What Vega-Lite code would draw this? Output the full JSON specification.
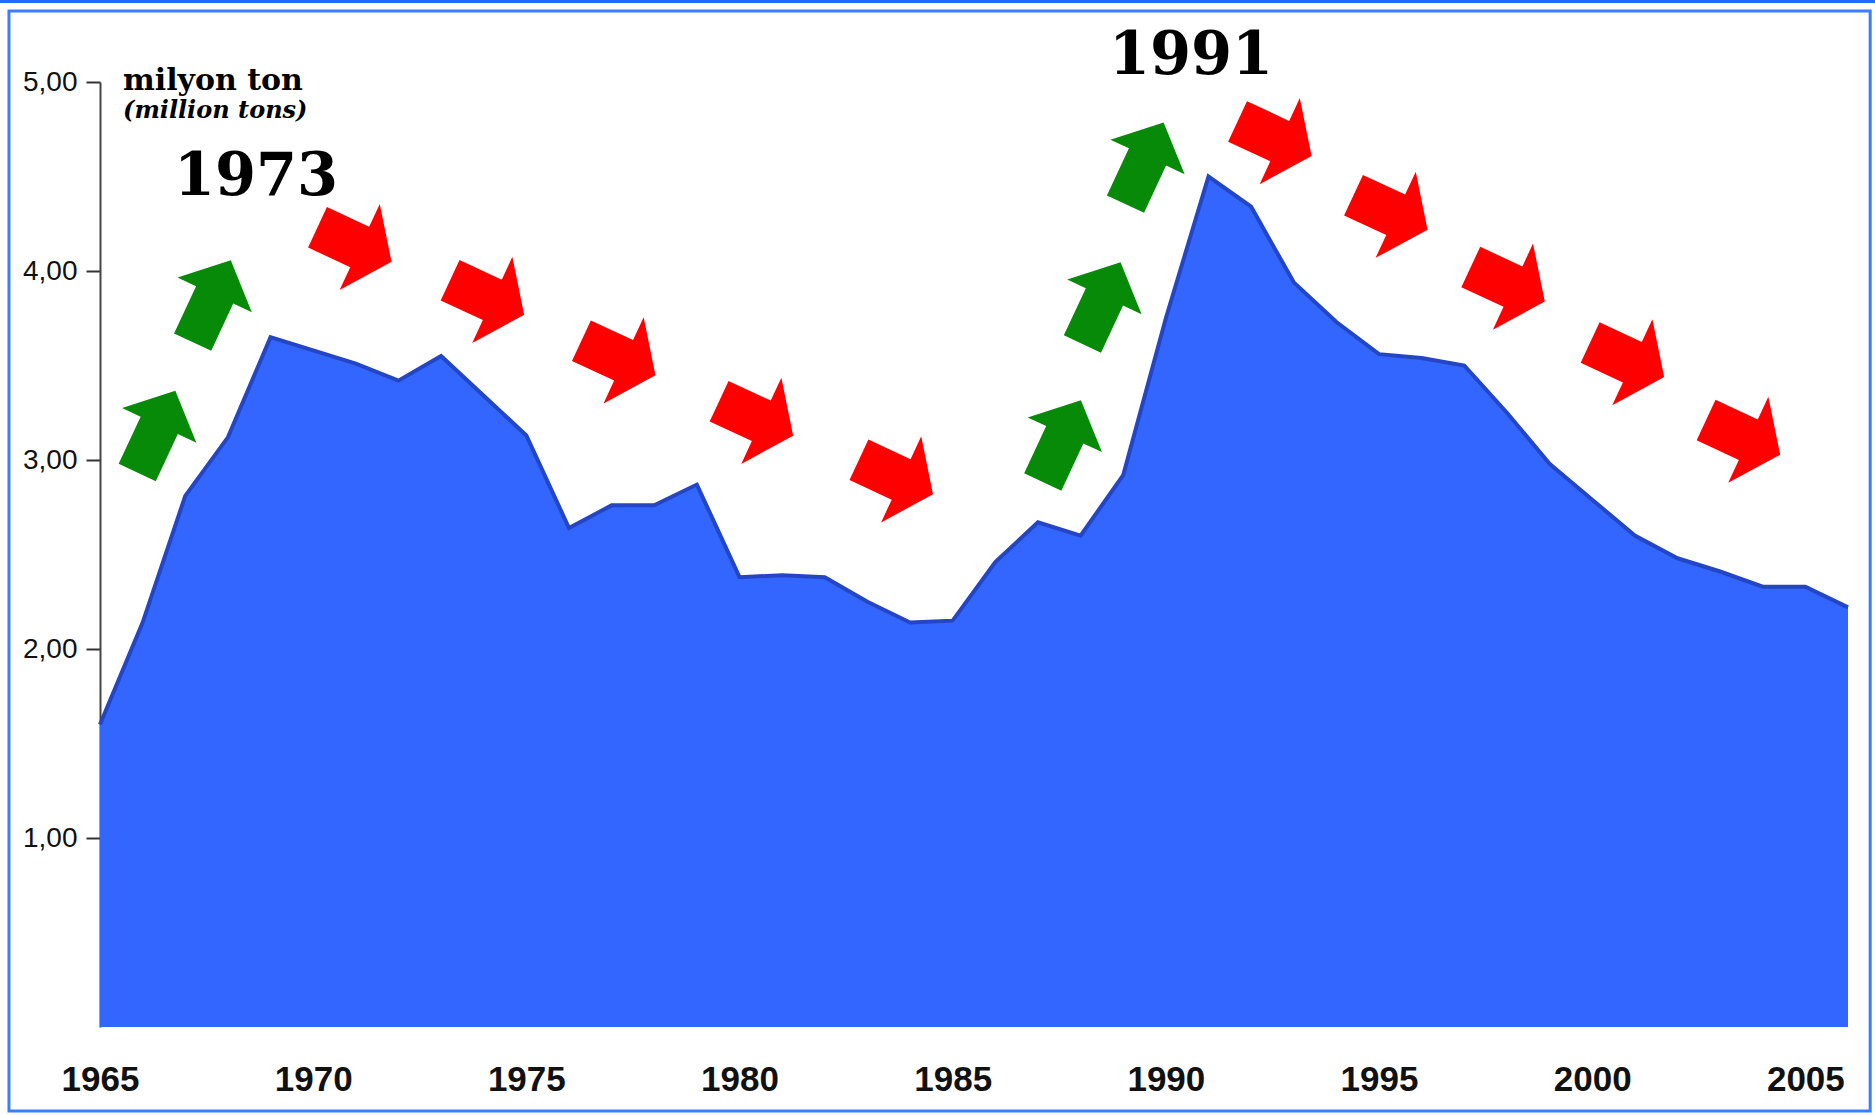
{
  "$schema": "https://vega.github.io/schema/vega-lite/v6.json",
  "width": 1748,
  "height": 945,
  "autosize": {"type": "none"},
  "padding": {"left": 100, "top": 82, "right": 27, "bottom": 88},
  "background": "white",
  "config": {"view": {"stroke": null}},
  "datasets": {
    "series": [
      {"year": 1965, "value": 1.60}, {"year": 1966, "value": 2.14}, {"year": 1967, "value": 2.81},
      {"year": 1968, "value": 3.12}, {"year": 1969, "value": 3.65}, {"year": 1970, "value": 3.58},
      {"year": 1971, "value": 3.51}, {"year": 1972, "value": 3.42}, {"year": 1973, "value": 3.55},
      {"year": 1974, "value": 3.34}, {"year": 1975, "value": 3.13}, {"year": 1976, "value": 2.64},
      {"year": 1977, "value": 2.76}, {"year": 1978, "value": 2.76}, {"year": 1979, "value": 2.87},
      {"year": 1980, "value": 2.38}, {"year": 1981, "value": 2.39}, {"year": 1982, "value": 2.38},
      {"year": 1983, "value": 2.25}, {"year": 1984, "value": 2.14}, {"year": 1985, "value": 2.15},
      {"year": 1986, "value": 2.46}, {"year": 1987, "value": 2.67}, {"year": 1988, "value": 2.60},
      {"year": 1989, "value": 2.92}, {"year": 1990, "value": 3.75}, {"year": 1991, "value": 4.50},
      {"year": 1992, "value": 4.34}, {"year": 1993, "value": 3.94}, {"year": 1994, "value": 3.73},
      {"year": 1995, "value": 3.56}, {"year": 1996, "value": 3.54}, {"year": 1997, "value": 3.50},
      {"year": 1998, "value": 3.25}, {"year": 1999, "value": 2.98}, {"year": 2000, "value": 2.79},
      {"year": 2001, "value": 2.60}, {"year": 2002, "value": 2.48}, {"year": 2003, "value": 2.41},
      {"year": 2004, "value": 2.33}, {"year": 2005, "value": 2.33}, {"year": 2006, "value": 2.22}
    ],
    "arrows": [
      {"year": 1966.32, "value": 3.15, "dir": "up"},
      {"year": 1967.62, "value": 3.84, "dir": "up"},
      {"year": 1970.97, "value": 4.14, "dir": "down"},
      {"year": 1974.08, "value": 3.86, "dir": "down"},
      {"year": 1977.16, "value": 3.54, "dir": "down"},
      {"year": 1980.39, "value": 3.22, "dir": "down"},
      {"year": 1983.67, "value": 2.91, "dir": "down"},
      {"year": 1987.56, "value": 3.10, "dir": "up"},
      {"year": 1988.49, "value": 3.83, "dir": "up"},
      {"year": 1989.50, "value": 4.57, "dir": "up"},
      {"year": 1992.55, "value": 4.70, "dir": "down"},
      {"year": 1995.27, "value": 4.31, "dir": "down"},
      {"year": 1998.02, "value": 3.93, "dir": "down"},
      {"year": 2000.82, "value": 3.53, "dir": "down"},
      {"year": 2003.54, "value": 3.12, "dir": "down"}
    ],
    "notes": [
      {"year": 1965.54, "value": 4.96, "kind": "unit", "label": "milyon ton"},
      {"year": 1965.54, "value": 4.81, "kind": "unitEn", "label": "(million tons)"},
      {"year": 1968.66, "value": 4.40, "kind": "peak", "label": "1973"},
      {"year": 1990.59, "value": 5.04, "kind": "peak", "label": "1991"}
    ],
    "frame": [
      {"x1": 1962.865, "x2": 2006.52, "y1": 5.376, "y2": -0.444}
    ],
    "band": [
      {"x1": 1962.6, "x2": 2006.7, "y1": 5.44, "y2": 5.418}
    ]
  },
  "layer": [
    {
      "data": {"name": "series"},
      "mark": {"type": "area", "color": "#3366ff", "opacity": 1, "fillOpacity": 1, "interpolate": "linear", "line": {"color": "#2446c4", "strokeWidth": 4}},
      "encoding": {
        "x": {
          "field": "year", "type": "quantitative",
          "scale": {"domain": [1965, 2006], "nice": false, "zero": false},
          "axis": {
            "values": [1965, 1970, 1975, 1980, 1985, 1990, 1995, 2000, 2005],
            "format": "d", "title": null, "grid": false, "domain": false, "ticks": false, "tickSize": 0,
            "labelPadding": 35, "labelFont": "Liberation Sans, Arial, sans-serif",
            "labelFontWeight": "bold", "labelFontSize": 35, "labelColor": "#111111", "labelFlush": false
          }
        },
        "y": {
          "field": "value", "type": "quantitative",
          "scale": {"domain": [0, 5], "nice": false},
          "axis": {
            "values": [1, 2, 3, 4, 5], "title": null, "grid": false,
            "labelExpr": "replace(format(datum.value, '.2f'), '.', ',')",
            "domain": true, "domainColor": "#444444", "domainWidth": 2,
            "ticks": true, "tickColor": "#333333", "tickWidth": 2, "tickSize": 14,
            "labelPadding": 9, "labelFont": "Liberation Sans, Arial, sans-serif",
            "labelFontSize": 28, "labelColor": "#111111"
          }
        }
      }
    },
    {
      "data": {"name": "band"},
      "mark": {"type": "rect", "fill": "#1f6dff", "strokeWidth": 0},
      "encoding": {
        "x": {"field": "x1", "type": "quantitative", "title": null, "scale": {"domain": [1965, 2006], "nice": false, "zero": false}},
        "x2": {"field": "x2"},
        "y": {"field": "y1", "type": "quantitative", "title": null, "scale": {"domain": [0, 5], "nice": false}},
        "y2": {"field": "y2"}
      }
    },
    {
      "data": {"name": "frame"},
      "mark": {"type": "rect", "fill": null, "fillOpacity": 0, "stroke": "#3a7dff", "strokeWidth": 3},
      "encoding": {
        "x": {"field": "x1", "type": "quantitative", "title": null, "scale": {"domain": [1965, 2006], "nice": false, "zero": false}},
        "x2": {"field": "x2"},
        "y": {"field": "y1", "type": "quantitative", "title": null, "scale": {"domain": [0, 5], "nice": false}},
        "y2": {"field": "y2"}
      }
    },
    {
      "data": {"name": "arrows"},
      "transform": [{"filter": "datum.dir === 'up'"}],
      "mark": {
        "type": "point", "filled": true, "opacity": 1, "fill": "#078a07", "strokeWidth": 0,
        "shape": "M -0.5 1.1 L -0.5 -0.17 L -1 -0.17 L 0 -1.1 L 1 -0.17 L 0.5 -0.17 L 0.5 1.1 Z",
        "size": 6724, "angle": 25
      },
      "encoding": {
        "x": {"field": "year", "type": "quantitative", "title": null, "scale": {"domain": [1965, 2006], "nice": false, "zero": false}},
        "y": {"field": "value", "type": "quantitative", "title": null, "scale": {"domain": [0, 5], "nice": false}}
      }
    },
    {
      "data": {"name": "arrows"},
      "transform": [{"filter": "datum.dir === 'down'"}],
      "mark": {
        "type": "point", "filled": true, "opacity": 1, "fill": "#ff0000", "strokeWidth": 0,
        "shape": "M -0.47 0.86 L -0.47 -0.12 L -1 -0.12 L 0 -0.86 L 1 -0.12 L 0.47 -0.12 L 0.47 0.86 Z",
        "size": 9025, "angle": 115
      },
      "encoding": {
        "x": {"field": "year", "type": "quantitative", "title": null, "scale": {"domain": [1965, 2006], "nice": false, "zero": false}},
        "y": {"field": "value", "type": "quantitative", "title": null, "scale": {"domain": [0, 5], "nice": false}}
      }
    },
    {
      "data": {"name": "notes"},
      "transform": [{"filter": "datum.kind === 'unit'"}],
      "mark": {"type": "text", "align": "left", "baseline": "alphabetic", "font": "DejaVu Serif", "fontWeight": "bold", "fontSize": 30, "color": "#000000"},
      "encoding": {
        "x": {"field": "year", "type": "quantitative", "title": null, "scale": {"domain": [1965, 2006], "nice": false, "zero": false}},
        "y": {"field": "value", "type": "quantitative", "title": null, "scale": {"domain": [0, 5], "nice": false}},
        "text": {"field": "label"}
      }
    },
    {
      "data": {"name": "notes"},
      "transform": [{"filter": "datum.kind === 'unitEn'"}],
      "mark": {"type": "text", "align": "left", "baseline": "alphabetic", "font": "DejaVu Serif", "fontWeight": "bold", "fontStyle": "italic", "fontSize": 24, "color": "#000000"},
      "encoding": {
        "x": {"field": "year", "type": "quantitative", "title": null, "scale": {"domain": [1965, 2006], "nice": false, "zero": false}},
        "y": {"field": "value", "type": "quantitative", "title": null, "scale": {"domain": [0, 5], "nice": false}},
        "text": {"field": "label"}
      }
    },
    {
      "data": {"name": "notes"},
      "transform": [{"filter": "datum.kind === 'peak'"}],
      "mark": {"type": "text", "align": "center", "baseline": "alphabetic", "font": "DejaVu Serif", "fontWeight": "bold", "fontSize": 59, "color": "#000000"},
      "encoding": {
        "x": {"field": "year", "type": "quantitative", "title": null, "scale": {"domain": [1965, 2006], "nice": false, "zero": false}},
        "y": {"field": "value", "type": "quantitative", "title": null, "scale": {"domain": [0, 5], "nice": false}},
        "text": {"field": "label"}
      }
    }
  ]
}
